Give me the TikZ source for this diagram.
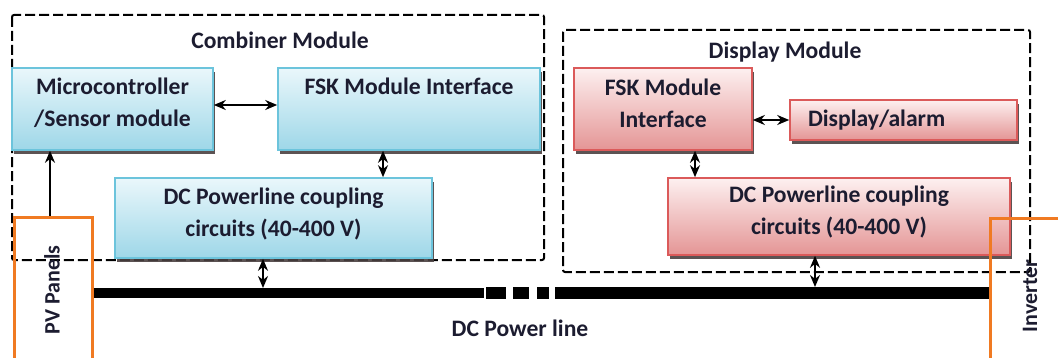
\documentclass[tikz,border=0pt]{standalone}
\usepackage{fontspec}
\setmainfont{Carlito}
\usetikzlibrary{arrows.meta,shadows}
\definecolor{bluetop}{HTML}{EAF7FB}
\definecolor{bluebot}{HTML}{9ED7E8}
\definecolor{blueedge}{HTML}{6CC4DC}
\definecolor{redtop}{HTML}{FDF0F0}
\definecolor{redbot}{HTML}{E49595}
\definecolor{rededge}{HTML}{DB5A5A}
\definecolor{pvorange}{HTML}{F07A22}
\definecolor{txt}{HTML}{1C1C30}
\definecolor{shade}{HTML}{4A4040}
\begin{document}
\begin{tikzpicture}[x=0.5pt,y=-0.5pt,
  font=\bfseries\fontsize{11.8}{16}\selectfont, text=txt,
  blockbase/.style={draw, line width=0.8pt, inner sep=0pt, align=center,
    drop shadow={shadow xshift=1pt, shadow yshift=-2pt, fill=shade, opacity=0.9}},
  blueblock/.style={blockbase, draw=blueedge, top color=bluetop, bottom color=bluebot},
  redblock/.style={blockbase, draw=rededge, top color=redtop, bottom color=redbot},
  modframe/.style={draw, line width=1pt, dash pattern=on 5pt off 2pt, rounded corners=1pt},
  endbox/.style={draw=pvorange, line width=1.5pt, inner sep=0pt},
  vlabel/.style={rotate=90, inner sep=0pt, font=\bfseries\fontsize{11}{13}\selectfont},
  tip/.tip={Stealth[length=6pt,width=5pt]},
  biarrow/.style={line width=1pt, tip-tip},
  onearrow/.style={line width=1pt, -tip},
  busthin/.style={line width=5pt},
  busthick/.style={line width=6pt}]
\useasboundingbox (0,0) rectangle (1058,358);
\clip (0,0) rectangle (1058,358);

% module frames
\draw[modframe] (12,15) rectangle (544,260);
\draw[modframe] (563,30) rectangle (1030,272);
\node (combtitle) at (280,40) {Combiner Module};
\node (disptitle) at (785,52) {Display Module};

% combiner module blocks (extra text depth lifts the lines a little)
\node[blueblock, minimum width=100.5pt, minimum height=41pt, text depth=7pt] (mcu) at (112.5,109)
  {Microcontroller\\/Sensor module};
\node[blueblock, minimum width=131pt, minimum height=41pt, text depth=7pt] (fskc) at (409,109)
  {FSK Module Interface\\\mbox{}};
\node[blueblock, minimum width=158.5pt, minimum height=40pt, text depth=6pt] (dcc) at (273.5,218)
  {DC Powerline coupling\\circuits (40-400 V)};

% display module blocks
\node[redblock, minimum width=89pt, minimum height=41pt, text depth=6pt] (fskd) at (663,109)
  {FSK Module\\Interface};
\node[redblock, minimum height=20pt, inner xsep=9pt, text width=95.5pt, align=left] (disp)
  at (903.5,120) {Display/alarm};
\node[redblock, minimum width=171pt, minimum height=38.5pt, text depth=6pt] (dcd) at (839,216.5)
  {DC Powerline coupling\\circuits (40-400 V)};

% PV panels and inverter
\node[endbox, minimum width=39pt, minimum height=81.5pt] (pv) at (53,298.5) {};
\node[vlabel] (pvlabel) at (52,290) {PV Panels};
\node[endbox, minimum width=45pt, minimum height=81pt] (inv) at (1035,299) {};
\node[vlabel] (invlabel) at (1030,296) {Inverter};

% DC power line
\coordinate (busA) at (92,293);
\coordinate (busB) at (484,293);
\coordinate (busC) at (486,293);
\coordinate (tapC) at (263,288);
\coordinate (tapD) at (815,287);
\draw[busthin] (pv.east |- busA) -- (busB);
\draw[busthick, dash pattern=on 10pt off 3.5pt on 8pt off 4pt on 6pt off 3pt on 400pt off 0pt]
  (busC) -- (inv.west |- busC);
\node (buslabel) at (520,328) {DC Power line};

% signal connections
\draw[onearrow] ([xshift=-1.5pt]pv.north) -- ([xshift=-1.5pt]pv.north |- mcu.south);
\draw[biarrow] ([yshift=2pt]mcu.east) -- ([yshift=2pt]fskc.west);
\draw[biarrow] ([xshift=-13pt]fskc.south) -- ([xshift=-13pt]fskc.south |- dcc.north);
\draw[biarrow] (tapC |- dcc.south) -- (tapC);
\draw[biarrow] (fskd.east |- disp.west) -- (disp.west);
\draw[biarrow] ([xshift=16pt]fskd.south) -- ([xshift=16pt]fskd.south |- dcd.north);
\draw[biarrow] (tapD |- dcd.south) -- (tapD);
\end{tikzpicture}
\end{document}
